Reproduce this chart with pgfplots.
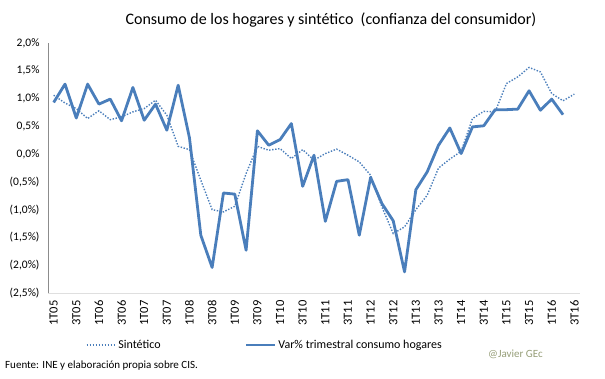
\documentclass[border=0pt]{standalone}
\usepackage{fontspec}
\setmainfont{Carlito}
\usepackage{pgfplots}
\pgfplotsset{compat=1.18}
\definecolor{serie}{RGB}{74,126,187}
\definecolor{marca}{RGB}{150,158,120}
\begin{document}
\begin{tikzpicture}
\useasboundingbox (0,0) rectangle (605pt,378pt);
\begin{axis}[
  at={(48pt,85pt)}, anchor=south west,
  scale only axis, width=532pt, height=250pt,
  xmin=-0.5, xmax=46.5, ymin=-2.5, ymax=2.0,
  axis lines=left, axis line style={-},
  x axis line style={draw=gray!25},
  y axis line style={draw=gray!90},
  major tick length=0pt,
  ytick={-2.5,-2,-1.5,-1,-0.5,0,0.5,1,1.5,2},
  yticklabels={(2,5\%),(2,0\%),(1,5\%),(1,0\%),(0,5\%),{0,0\%},{0,5\%},{1,0\%},{1,5\%},{2,0\%}},
  yticklabel style={font=\fontsize{11.5}{13}\selectfont, xshift=-5pt},
  xtick={0,2,...,46},
  xticklabels={1T05,3T05,1T06,3T06,1T07,3T07,1T08,3T08,1T09,3T09,1T10,3T10,1T11,3T11,1T12,3T12,1T13,3T13,1T14,3T14,1T15,3T15,1T16,3T16},
  xticklabel style={font=\fontsize{12.5}{14}\selectfont, rotate=90, anchor=east, xshift=-4pt},
  legend columns=2,
  legend style={draw=none, fill=none, inner sep=0pt,
    at={(0.071,-0.208)}, anchor=west,
    font=\fontsize{12}{14}\selectfont,
    nodes={inner sep=2pt},
    /tikz/every even column/.append style={column sep=82pt}},
  legend image code/.code={\draw[#1] (0pt,0pt) -- (29pt,0pt);},
]
\addplot[serie, line width=1.4pt, dash pattern=on 1.4pt off 1.6pt] coordinates {
(0,1.06)(1,0.92)(2,0.82)(3,0.64)(4,0.78)(5,0.62)(6,0.67)(7,0.76)(8,0.82)(9,0.97)
(10,0.70)(11,0.14)(12,0.08)(13,-0.47)(14,-1.00)(15,-1.04)(16,-0.94)(17,-0.35)(18,0.14)(19,0.07)
(20,0.10)(21,-0.08)(22,0.08)(23,-0.11)(24,0.01)(25,0.09)(26,-0.02)(27,-0.14)(28,-0.38)(29,-0.95)
(30,-1.43)(31,-1.31)(32,-1.00)(33,-0.74)(34,-0.25)(35,-0.09)(36,0.05)(37,0.64)(38,0.77)(39,0.76)
(40,1.27)(41,1.39)(42,1.56)(43,1.48)(44,1.09)(45,0.96)(46,1.08)};
\addlegendentry{Sintético}
\addplot[serie, line width=2.8pt, line join=round] coordinates {
(0,0.93)(1,1.26)(2,0.65)(3,1.26)(4,0.90)(5,0.99)(6,0.60)(7,1.20)(8,0.61)(9,0.90)
(10,0.43)(11,1.24)(12,0.29)(13,-1.46)(14,-2.04)(15,-0.70)(16,-0.72)(17,-1.73)(18,0.42)(19,0.16)
(20,0.26)(21,0.55)(22,-0.58)(23,-0.02)(24,-1.21)(25,-0.49)(26,-0.46)(27,-1.46)(28,-0.42)(29,-0.89)
(30,-1.20)(31,-2.12)(32,-0.64)(33,-0.32)(34,0.16)(35,0.47)(36,0.01)(37,0.49)(38,0.51)(39,0.80)
(40,0.80)(41,0.81)(42,1.14)(43,0.79)(44,0.99)(45,0.71)};
\addlegendentry{Var\% trimestral consumo hogares}
\end{axis}
\node[font=\fontsize{16}{18}\selectfont] at (331pt,358pt) {Consumo de los hogares y sintético\ \ (confianza del consumidor)};
\node[anchor=west, font=\fontsize{11}{12}\selectfont, inner sep=0pt] at (5pt,12pt) {Fuente: INE y elaboración propia sobre CIS.};
\node[anchor=west, font=\fontsize{11}{12}\selectfont, text=marca, inner sep=0pt] at (488pt,24pt) {@Javier GEc};
\end{tikzpicture}
\end{document}
